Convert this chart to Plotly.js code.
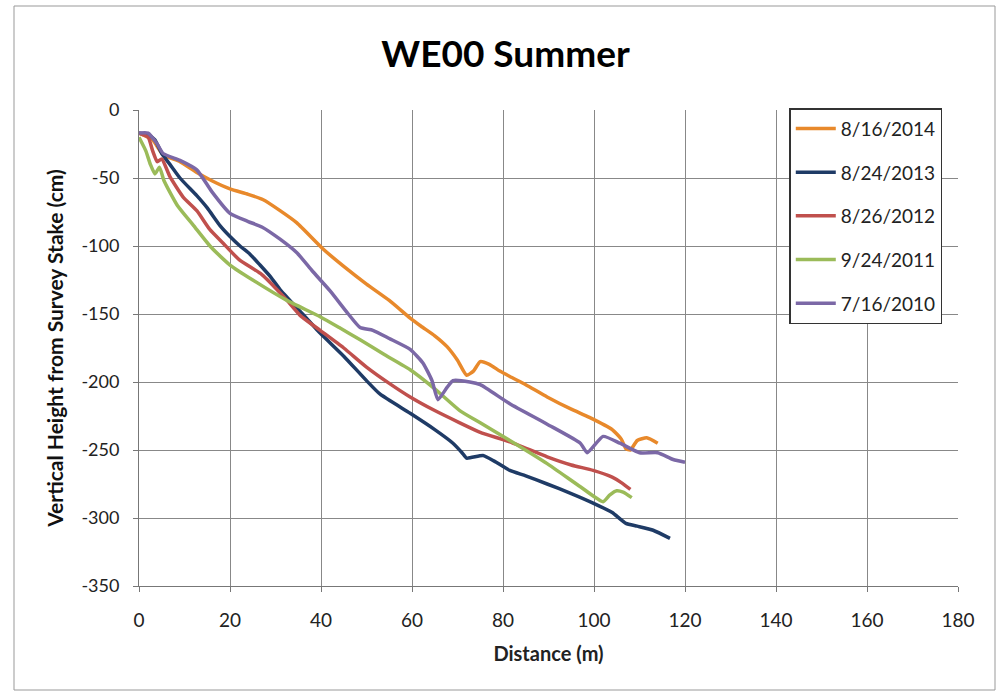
<!DOCTYPE html>
<html><head><meta charset="utf-8">
<script src="https://cdn.plot.ly/plotly-3.0.1.min.js"></script>
<style>html,body{margin:0;padding:0;background:#fff}#chart{width:1001px;height:696px}</style>
</head><body><div id="chart"></div>
<script>
const seriesNames = ["8/16/2014", "8/24/2013", "8/26/2012", "9/24/2011", "7/16/2010"];

const x2014 = [0, 3, 5.3, 9, 12.7, 16, 20, 24, 27.3, 31, 34.7, 40.4, 45, 50, 55, 59.6, 62, 65, 67.7, 70, 72, 73.5, 75, 77, 79.3, 81.5, 85, 89.7, 95, 99, 104, 106, 107, 108, 109.5, 111.6, 114];
const y2014 = [-17, -22, -33, -38, -46, -52, -58, -62, -66, -74, -83, -102, -115, -128, -140, -153, -159, -166, -174, -184, -195, -192, -185, -187, -192, -196, -202, -211, -220, -226, -235, -242, -249, -250, -243, -241, -245];

const x2013 = [0, 2, 3.5, 5, 6.8, 9, 12.7, 15, 17.8, 20, 22.2, 24.4, 26.6, 29, 31, 35.4, 39.8, 45, 50, 53, 59.6, 65, 69, 71, 72, 75.6, 78, 81.5, 85, 89.7, 95, 99.8, 104, 107, 109.5, 113, 116.7];
const y2013 = [-17, -18, -22, -32, -40, -50, -63, -72, -85, -93, -100, -106, -114, -123, -132, -148, -164, -181, -199, -209, -223, -235, -245, -252, -256, -254, -258, -265, -269, -275, -282, -289, -296, -304, -306, -309, -315];

const x2012 = [0, 2, 3, 4, 5, 6.8, 9.7, 12.7, 15.6, 18.5, 22, 27, 32, 35.4, 39.8, 45, 50, 55, 59.6, 65, 70.5, 75, 81.5, 89.7, 95, 99.8, 104, 106, 108];
const y2012 = [-17, -20, -30, -38, -36, -49, -64, -74, -88, -98, -110, -121, -138, -151, -162, -175, -189, -201, -211, -221, -230, -237, -244, -255, -261, -265, -270, -274, -279];

const x2011 = [0, 1.5, 2.5, 3.5, 4.5, 5.5, 8.4, 12, 15.6, 18, 20, 25, 32.5, 39.8, 44, 48.6, 54, 59.6, 65, 70.5, 75, 81.5, 89.7, 97, 102, 103.5, 105, 106.4, 108.3];
const y2011 = [-20, -30, -40, -47, -42, -52, -70, -85, -100, -108, -114, -125, -140, -152, -160, -169, -180, -191, -205, -221, -230, -243, -260, -277, -288, -283, -280, -281, -285];

const x2010 = [0, 2, 4, 5.3, 9, 12.7, 16, 20, 24, 27, 31, 34.7, 38, 42, 46, 48.6, 51.4, 55, 59.6, 62.4, 64.4, 65.7, 67.7, 69, 72.7, 75, 81.5, 89.7, 97, 98.5, 102, 105.7, 110, 114, 117.4, 120];
const y2010 = [-17, -17, -25, -32, -37, -44, -60, -76, -82, -86, -95, -105, -118, -133, -150, -160, -162, -168, -176, -186, -199, -213, -204, -199, -200, -202, -216, -231, -245, -252, -240, -245, -252, -252, -257, -259];

const xTicks = [0, 20, 40, 60, 80, 100, 120, 140, 160, 180];
const yTicks = [0, -50, -100, -150, -200, -250, -300, -350];

const colors = ["#E8892B", "#1F3B66", "#C0504D", "#9BBB59", "#7B68A6"];
const xs = [x2014, x2013, x2012, x2011, x2010];
const ys = [y2014, y2013, y2012, y2011, y2010];

const traces = seriesNames.map((n, i) => ({
  x: xs[i], y: ys[i], name: n, type: 'scatter', mode: 'lines',
  legendgroup: 'g' + i,
  line: {color: colors[i], width: 3.5, shape: 'spline', smoothing: 0.5}
}));

const font = "Lato, 'Open Sans', sans-serif";
const layout = {
  width: 1001, height: 696,
  margin: {l: 139, r: 43, t: 110, b: 110},
  paper_bgcolor: '#fff', plot_bgcolor: '#fff',
  title: {text: '<b>WE00 Summer</b>', x: 0.505, xanchor: 'center', y: 0.922, yanchor: 'middle',
          font: {family: font, size: 37, color: '#000'}},
  xaxis: {range: [0, 180], tickvals: xTicks, ticktext: xTicks.map(String),
          showgrid: true, gridcolor: '#888', gridwidth: 1,
          showline: true, linecolor: '#777', linewidth: 1, mirror: false,
          ticks: 'outside', ticklen: 5, tickcolor: '#777',
          ticklabelstandoff: 12,
          zeroline: false,
          tickfont: {family: font, size: 19, color: '#222'},
          title: {text: '<b>Distance (m)</b>', font: {family: font, size: 20, color: '#222'}, standoff: 17}},
  yaxis: {range: [-350, 0], tickvals: yTicks, ticktext: yTicks.map(String),
          showgrid: true, gridcolor: '#888', gridwidth: 1,
          showline: true, linecolor: '#777', linewidth: 1,
          ticks: 'outside', ticklen: 5, tickcolor: '#777',
          ticklabelstandoff: 10,
          zeroline: false,
          tickfont: {family: font, size: 18, color: '#222'},
          title: {text: '<b>Vertical Height from Survey Stake (cm)</b>', font: {family: font, size: 21, color: '#111'}, standoff: 12}},
  showlegend: true,
  legend: {x: 0.794, y: 1.004, xanchor: 'left', yanchor: 'top',
           bgcolor: '#fff', bordercolor: '#333', borderwidth: 1.5,
           font: {family: font, size: 19, color: '#222'},
           tracegroupgap: 16, itemwidth: 40},
  shapes: [{type: 'rect', xref: 'paper', yref: 'paper',
            x0: (14 - 139) / 819, x1: (995 - 139) / 819,
            y0: (586 - 690) / 476, y1: (586 - 6) / 476,
            line: {color: '#999', width: 1}, fillcolor: 'rgba(0,0,0,0)'}]
};

Plotly.newPlot('chart', traces, layout, {displayModeBar: false, staticPlot: true});
</script></body></html>
